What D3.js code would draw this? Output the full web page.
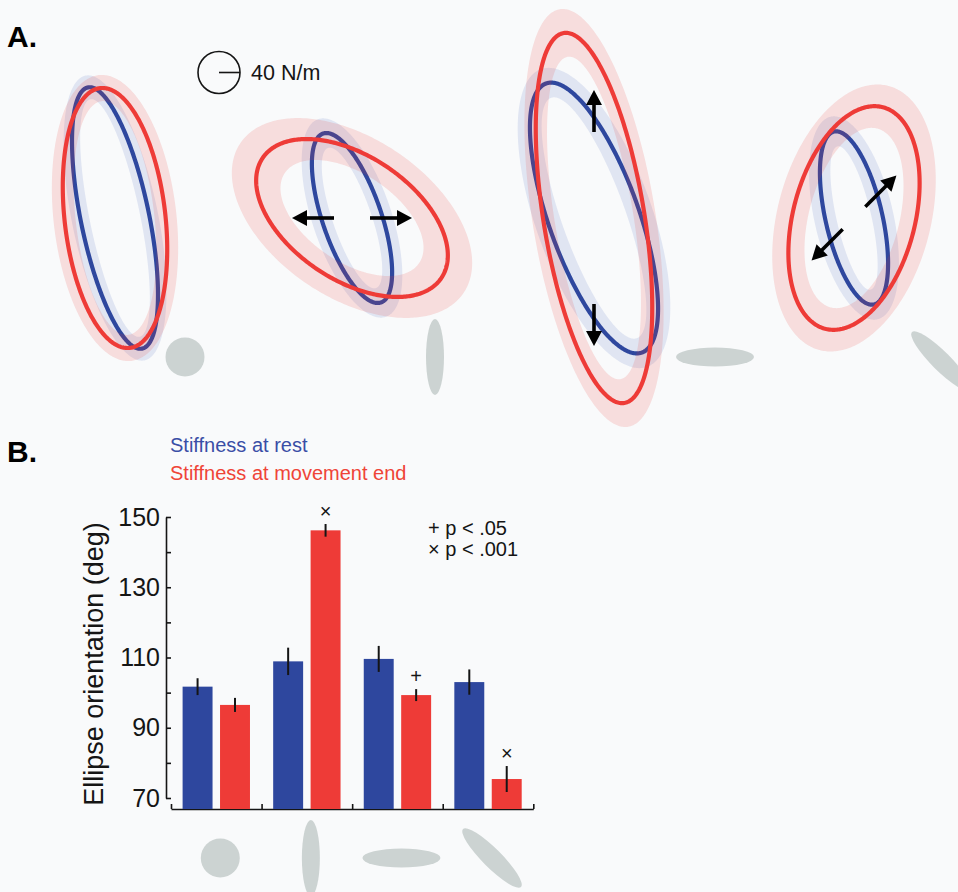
<!DOCTYPE html>
<html>
<head>
<meta charset="utf-8">
<script src="https://cdn.jsdelivr.net/npm/d3@7"></script>
<style>
  html, body { margin: 0; padding: 0; background: #f9fafb; }
  svg { display: block; font-family: "Liberation Sans", Arial, Helvetica, sans-serif; }
</style>
</head>
<body>
<svg id="fig" width="958" height="892"></svg>
<script>
// ---- data ----
const categories = ["isotropic", "vertical", "horizontal", "oblique"];

// ellipse orientation (deg), mean and s.e.
const restOrientation    = [101.7, 108.9, 109.6, 103.0];
const restOrientationErr = [2.4, 3.9, 3.7, 3.6];
const endOrientation     = [96.5, 146.2, 99.3, 75.4];
const endOrientationErr  = [2.0, 1.8, 1.7, 3.7];
const endSignificance    = ["", "\u00d7", "+", "\u00d7"];

// stiffness ellipse axes (N/m) and their variability (N/m)
const restMajor   = [254, 170, 272, 169];
const restMinor   = [65, 56, 86, 54];
const restMajorSD = [23, 29, 29, 29];
const restMinorSD = [17, 19, 25, 21];
const endMajor    = [249, 205, 357, 218];
const endMinor    = [96, 118, 96, 116];
const endMajorSD  = [25, 51, 46, 42];
const endMinorSD  = [21, 34, 21, 30];

// movement direction (deg) for each condition; none for the isotropic one
const movementDir = [null, 0, 90, 45];

const yTickValues  = [70, 80, 90, 100, 110, 120, 130, 140, 150];
const yTickLabels  = [70, 90, 110, 130, 150];
const scaleStiffness = 40; // N/m shown by the reference circle

// ---- colours ----
const BLUE = "#2e479e", RED = "#ee3b37", GREY = "#ccd3d2", INK = "#151515";

const svg = d3.select("#fig");
svg.append("rect").attr("width", 958).attr("height", 892).attr("fill", "#f9fafb");

// ---- helpers ----
function ellipsePts(cx, cy, a, b, deg) {
  const t = deg * Math.PI / 180;
  return d3.range(0, 360, 1).map(k => {
    const u = k * Math.PI / 180;
    const x = a * Math.cos(u), y = b * Math.sin(u);
    return [cx + x * Math.cos(t) - y * Math.sin(t), cy - (x * Math.sin(t) + y * Math.cos(t))];
  });
}
const closedLine = d3.line().curve(d3.curveLinearClosed);

function drawArrow(g, x1, y1, x2, y2) {
  const ang = Math.atan2(y2 - y1, x2 - x1);
  const hl = 15, hw = 8;
  const bx = x2 - hl * Math.cos(ang), by = y2 - hl * Math.sin(ang);
  g.append("line")
    .attr("x1", x1).attr("y1", y1).attr("x2", bx + Math.cos(ang)).attr("y2", by + Math.sin(ang))
    .attr("stroke", "#000").attr("stroke-width", 3.6);
  const px = -Math.sin(ang), py = Math.cos(ang);
  g.append("path")
    .attr("d", closedLine([[x2, y2], [bx + px * hw, by + py * hw], [bx - px * hw, by - py * hw]]))
    .attr("fill", "#000");
}

const iconShape = {
  isotropic:  { rx: 19.5, ry: 19.5, rot: 0 },
  vertical:   { rx: 9,    ry: 38,   rot: 0 },
  horizontal: { rx: 39,   ry: 9.5,  rot: 0 },
  oblique:    { rx: 41,   ry: 9.5,  rot: 45 }
};
function drawIcon(g, cat, cx, cy) {
  const s = iconShape[cat];
  g.append("ellipse")
    .attr("cx", 0).attr("cy", 0).attr("rx", s.rx).attr("ry", s.ry)
    .attr("transform", `translate(${cx},${cy}) rotate(${s.rot})`)
    .attr("fill", GREY);
}

// ================= Panel A =================
const gA = svg.append("g");
gA.append("text").attr("x", 7).attr("y", 47)
  .attr("font-size", 30).attr("font-weight", "bold").attr("fill", "#000").text("A.");

const stiff = d3.scaleLinear().domain([0, scaleStiffness]).range([0, 21]);
const centerX = d3.scaleOrdinal().domain(categories).range([115, 352, 594, 854]);
const centerY = 218;
const iconA = d3.scaleOrdinal().domain(categories).range([[185, 357], [435, 357], [715, 357], [941, 361]]);
const arrowSpan = d3.scaleOrdinal().domain(categories).range([[0, 0], [18, 60], [86, 128], [16, 60]]);

// scale reference circle
const sc = gA.append("g").attr("transform", "translate(219,72.5)");
sc.append("circle").attr("r", stiff(scaleStiffness)).attr("fill", "none").attr("stroke", INK).attr("stroke-width", 1.6);
sc.append("line").attr("x1", 0).attr("x2", stiff(scaleStiffness)).attr("stroke", INK).attr("stroke-width", 1.6);
gA.append("text").attr("x", 251).attr("y", 80).attr("font-size", 21.5).attr("fill", INK).text(scaleStiffness + " N/m");

// grey field icons
categories.forEach(c => { const p = iconA(c); drawIcon(gA, c, p[0], p[1]); });

function band(cx, cy, a, b, da, db, deg) {
  const outer = ellipsePts(cx, cy, a + da, b + db, deg);
  const inner = ellipsePts(cx, cy, Math.max(a - da, 1), Math.max(b - db, 1), deg);
  return closedLine(outer) + closedLine(inner);
}

categories.forEach((c, i) => {
  const cx = centerX(c), cy = centerY;
  const g = gA.append("g");
  // resting stiffness
  g.append("path")
    .attr("d", band(cx, cy, stiff(restMajor[i]), stiff(restMinor[i]), stiff(restMajorSD[i]), stiff(restMinorSD[i]), restOrientation[i]))
    .attr("fill", "#3d5fb8").attr("fill-opacity", 0.13).attr("fill-rule", "evenodd");
  g.append("path")
    .attr("d", closedLine(ellipsePts(cx, cy, stiff(restMajor[i]), stiff(restMinor[i]), restOrientation[i])))
    .attr("fill", "none").attr("stroke", BLUE).attr("stroke-width", 4.2);
  // stiffness at movement end
  g.append("path")
    .attr("d", band(cx, cy, stiff(endMajor[i]), stiff(endMinor[i]), stiff(endMajorSD[i]), stiff(endMinorSD[i]), endOrientation[i]))
    .attr("fill", "#ee3b37").attr("fill-opacity", 0.15).attr("fill-rule", "evenodd");
  g.append("path")
    .attr("d", closedLine(ellipsePts(cx, cy, stiff(endMajor[i]), stiff(endMinor[i]), endOrientation[i])))
    .attr("fill", "none").attr("stroke", RED).attr("stroke-width", 4.2);
  // movement direction arrows
  if (movementDir[i] !== null) {
    const t = movementDir[i] * Math.PI / 180;
    const [r0, r1] = arrowSpan(c);
    const ux = Math.cos(t), uy = -Math.sin(t);
    drawArrow(g, cx + ux * r0, cy + uy * r0, cx + ux * r1, cy + uy * r1);
    drawArrow(g, cx - ux * r0, cy - uy * r0, cx - ux * r1, cy - uy * r1);
  }
});

// ================= Panel B =================
const gB = svg.append("g");
gB.append("text").attr("x", 7).attr("y", 462)
  .attr("font-size", 30).attr("font-weight", "bold").attr("fill", "#000").text("B.");

gB.append("text").attr("x", 170).attr("y", 452).attr("font-size", 20).attr("fill", "#3a4ea6").text("Stiffness at rest");
gB.append("text").attr("x", 170).attr("y", 480).attr("font-size", 20).attr("fill", "#ef4437").text("Stiffness at movement end");

gB.append("text").attr("x", 428).attr("y", 535).attr("font-size", 20).attr("fill", INK).text("+ p < .05");
gB.append("text").attr("x", 428).attr("y", 556).attr("font-size", 20).attr("fill", INK).text("\u00d7 p < .001");

const y = d3.scaleLinear().domain([70, 150]).range([798, 517]);
const axisY = y(70) + 11;
const xGroup = d3.scaleBand().domain(categories).range([171, 533.3]).padding(0);
const xSub = d3.scaleBand().domain(["rest", "end"]).range([0, xGroup.bandwidth()]).paddingInner(0.2).paddingOuter(0.31);
const xEdge = d3.scaleLinear().domain([0, categories.length]).range(xGroup.range());

// y axis
const yAxis = gB.append("g").attr("transform", "translate(166,0)")
  .call(d3.axisLeft(y).tickValues(yTickValues)
    .tickFormat(d => yTickLabels.includes(d) ? d : "")
    .tickSizeInner(-5).tickSizeOuter(0).tickPadding(6));
yAxis.select(".domain").attr("stroke", INK).attr("stroke-width", 1.6);
yAxis.selectAll(".tick line").attr("stroke", INK).attr("stroke-width", 1.6);
yAxis.selectAll(".tick text").attr("font-size", 25).attr("fill", INK)
  .attr("font-family", "'Liberation Sans', Arial, sans-serif");

// x axis
const xAxis = gB.append("g").attr("transform", `translate(0,${axisY})`)
  .call(d3.axisBottom(xEdge).tickValues(d3.range(0, categories.length + 1))
    .tickFormat("").tickSizeInner(-5).tickSizeOuter(0));
xAxis.select(".domain").attr("stroke", INK).attr("stroke-width", 1.6);
xAxis.selectAll(".tick line").attr("stroke", INK).attr("stroke-width", 1.6);

gB.append("text")
  .attr("transform", `translate(103,664) rotate(-90)`)
  .attr("text-anchor", "middle").attr("font-size", 27).attr("fill", INK)
  .text("Ellipse orientation (deg)");

// bars
const barData = [];
categories.forEach((c, i) => {
  barData.push({ cat: c, key: "rest", v: restOrientation[i], e: restOrientationErr[i], sig: "" });
  barData.push({ cat: c, key: "end", v: endOrientation[i], e: endOrientationErr[i], sig: endSignificance[i] });
});
const bars = gB.append("g").selectAll("g").data(barData).join("g");
bars.append("rect")
  .attr("x", d => xGroup(d.cat) + xSub(d.key))
  .attr("width", xSub.bandwidth())
  .attr("y", d => y(d.v))
  .attr("height", d => axisY - y(d.v))
  .attr("fill", d => d.key === "rest" ? BLUE : RED);
bars.append("line")
  .attr("x1", d => xGroup(d.cat) + xSub(d.key) + xSub.bandwidth() / 2)
  .attr("x2", d => xGroup(d.cat) + xSub(d.key) + xSub.bandwidth() / 2)
  .attr("y1", d => y(d.v + d.e))
  .attr("y2", d => y(d.v - d.e))
  .attr("stroke", INK).attr("stroke-width", 2);
bars.filter(d => d.sig).append("text")
  .attr("x", d => xGroup(d.cat) + xSub(d.key) + xSub.bandwidth() / 2)
  .attr("y", d => y(d.v + d.e) - 6)
  .attr("text-anchor", "middle").attr("font-size", 20).attr("fill", INK)
  .text(d => d.sig);

// grey field icons under each group
categories.forEach(c => drawIcon(gB, c, xGroup(c) + xGroup.bandwidth() / 2 + 4, 858));
</script>
</body>
</html>
